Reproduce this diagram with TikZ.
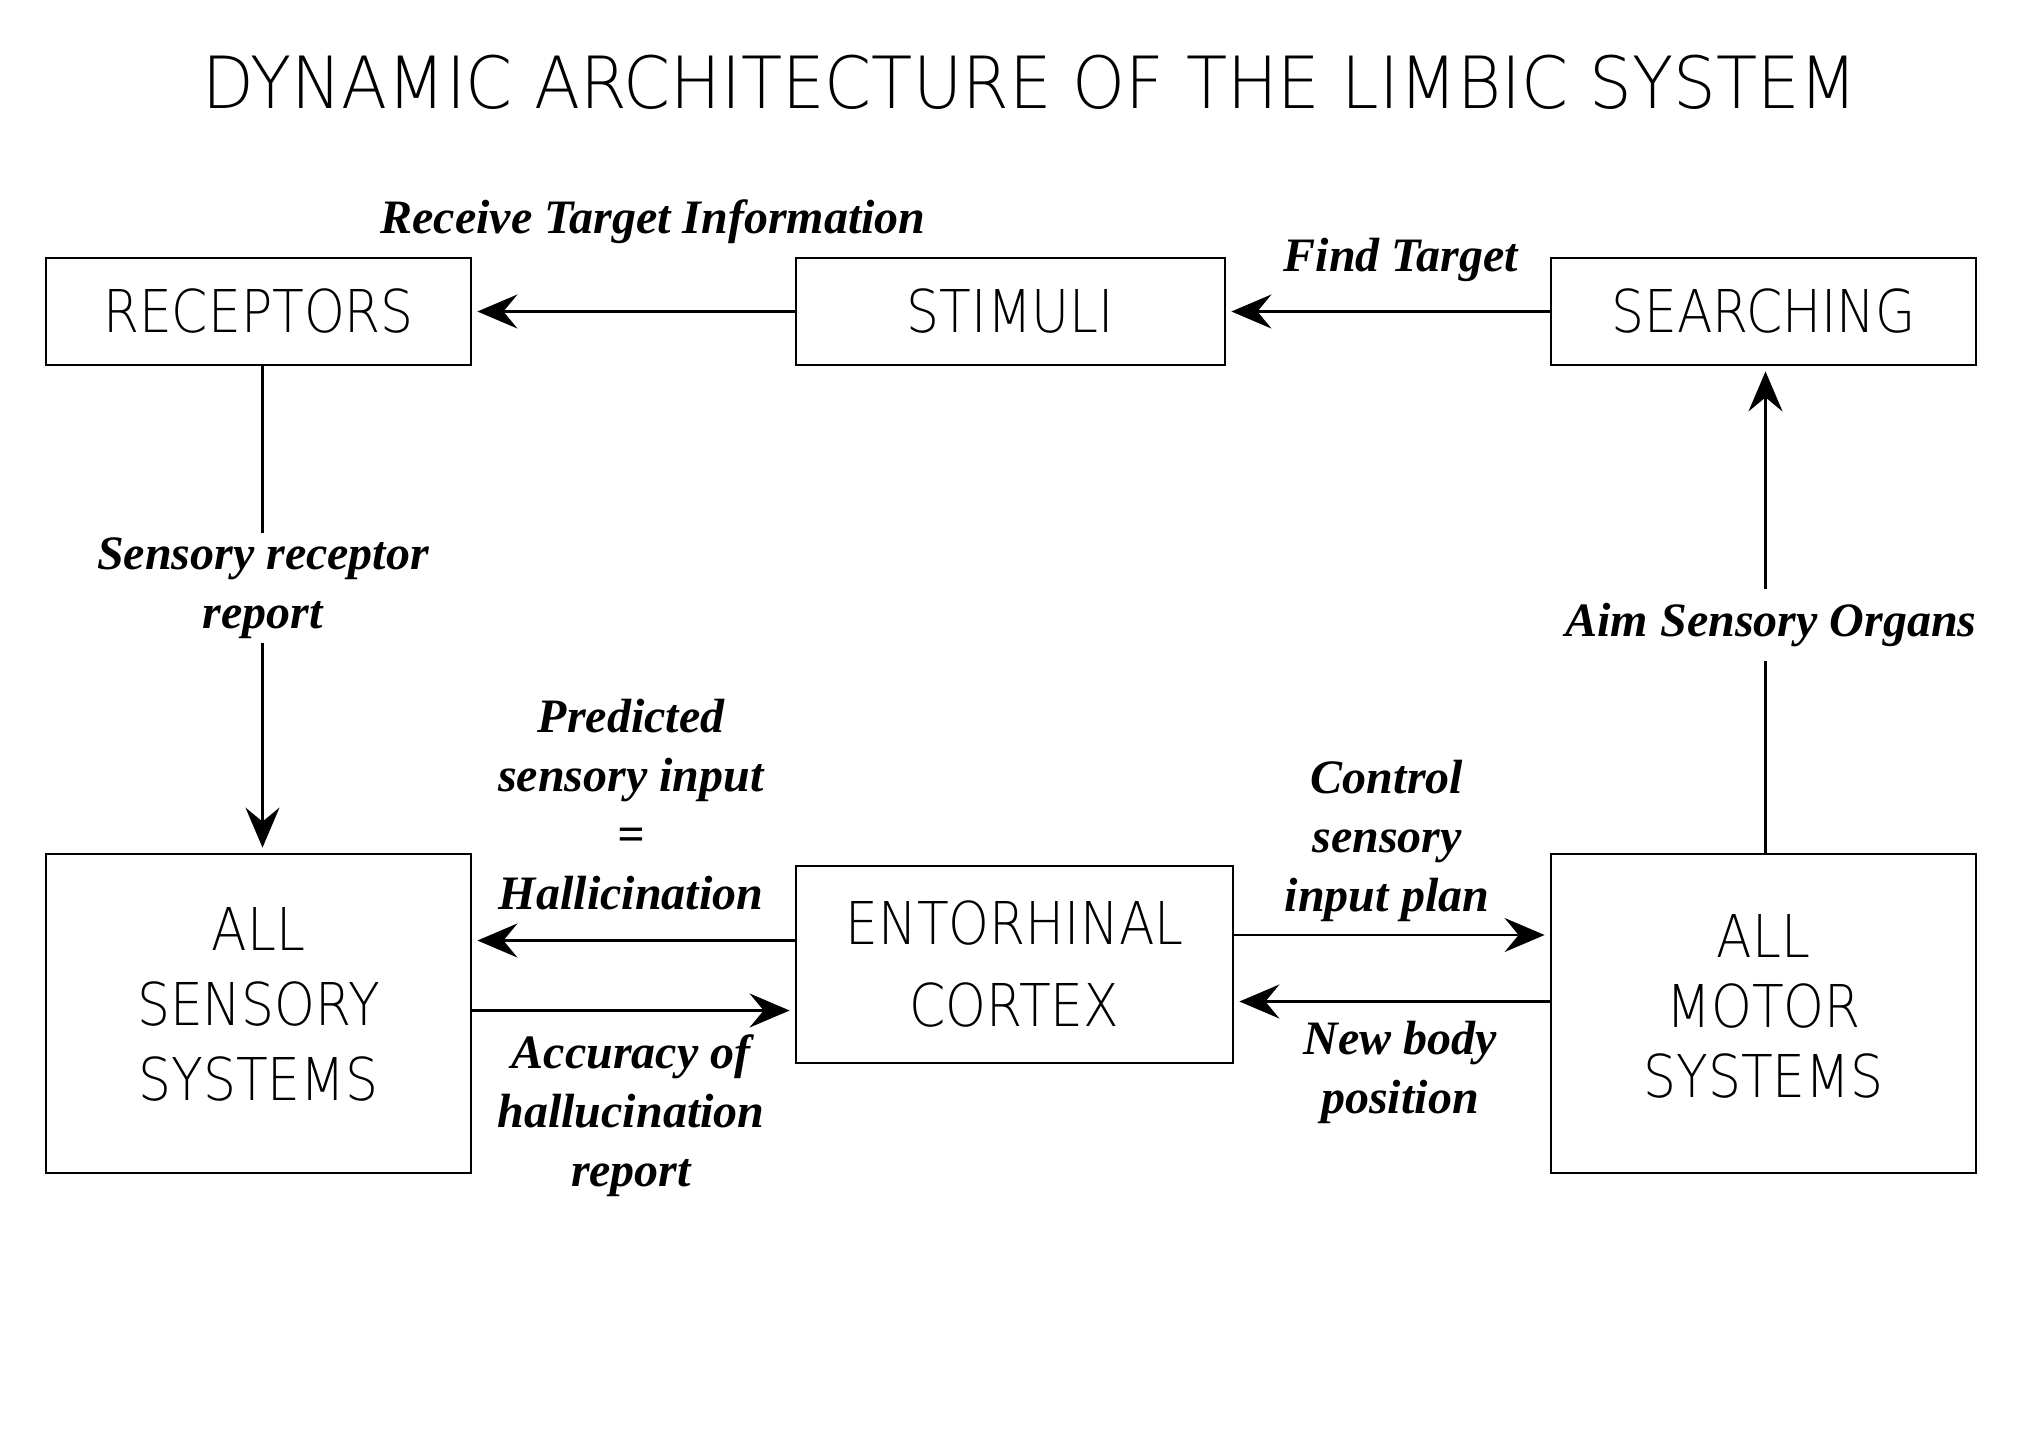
\documentclass[tikz,border=0pt]{standalone}
\usepackage{fontspec}
\setmainfont{Liberation Serif}
\IfFontExistsTF{DejaVuSans-ExtraLight.ttf}%
  {\newfontfamily\cad{DejaVuSans-ExtraLight}[Extension=.ttf,FakeStretch=0.88]%
   \newfontfamily\cadt{DejaVuSans-ExtraLight}[Extension=.ttf,FakeStretch=0.935]}%
  {\newfontfamily\cad{DejaVu Sans}[FakeStretch=0.88]%
   \newfontfamily\cadt{DejaVu Sans}[FakeStretch=0.935]}
\usetikzlibrary{arrows.meta}
\tikzset{
  box/.style={draw, line width=1.4pt, align=center, inner sep=0pt,
    font=\cad\fontsize{29.5}{37.5}\selectfont},
  lab/.style={font=\bfseries\itshape\fontsize{24}{29.5}\selectfont, align=center, inner sep=2pt},
  con/.style={line width=1.4pt},
  arr/.style={line width=1.4pt, shorten >=2.5pt, -{Stealth[length=20pt,width=17pt,inset=7pt]}}
}
\begin{document}
\begin{tikzpicture}[x=0.5pt,y=-0.5pt]
\useasboundingbox[fill=white] (0,0) rectangle (2020,1430);
% title
\node[font=\cadt\fontsize{36}{40}\selectfont] (title) at (1030,82) {DYNAMIC ARCHITECTURE OF THE LIMBIC SYSTEM};
% boxes
\node[box, minimum width=212.5pt, minimum height=53.5pt] (rec) at (258.5,311.5) {RECEPTORS};
\node[box, minimum width=214.5pt, minimum height=53.5pt] (sti) at (1010.5,311.5) {STIMULI};
\node[box, minimum width=212.5pt, minimum height=53.5pt] (sea) at (1763.5,311.5) {SEARCHING};
\node[box, minimum width=212.5pt, minimum height=159.5pt, text depth=10pt] (sen) at (258.5,1013.5) {ALL\\SENSORY\\SYSTEMS};
\node[box, minimum width=218.5pt, minimum height=98.5pt, font=\cad\fontsize{29.5}{41}\selectfont] (ent) at (1014.5,964.5) {ENTORHINAL\\CORTEX};
\node[box, minimum width=212.5pt, minimum height=159.5pt, text depth=8pt, font=\cad\fontsize{29.5}{35}\selectfont] (mot) at (1763.5,1013.5) {ALL\\MOTOR\\SYSTEMS};
% labels
\node[lab] (rti) at (653,222) {Receive Target Information};
\node[lab] (ft) at (1401,260) {Find Target};
\node[lab] (srr) at (263,588) {Sensory receptor\\report};
\node[lab, inner ysep=7pt] (aim) at (1771,625) {Aim Sensory Organs};
\node[lab] (phi) at (631,805) {Predicted\\sensory input\\=\\Hallicination};
\node[lab] (acc) at (631,1116) {Accuracy of\\hallucination\\report};
\node[lab] (csi) at (1387,841) {Control\\sensory\\input plan};
\node[lab] (nbp) at (1400,1072) {New body\\position};
% connectors
\draw[arr] (sti.west) -- (rec.east);
\draw[arr] (sea.west) -- (sti.east);
\draw[con] ([xshift=2pt]rec.south) -- ([xshift=2pt]rec.south |- srr.north);
\draw[arr] ([xshift=2pt]rec.south |- srr.south) -- ([xshift=2pt]sen.north);
\draw[con] ([xshift=1pt]mot.north) -- ([xshift=1pt]mot.north |- aim.south);
\draw[arr] ([xshift=1pt]mot.north |- aim.north) -- ([xshift=1pt]sea.south);
\draw[arr] ([yshift=12pt]ent.west) -- ([yshift=12pt]ent.west -| sen.east);
\draw[arr] ([yshift=-23pt]sen.east |- ent.west) -- ([yshift=-23pt]ent.west);
\draw[arr] ([yshift=14.75pt]ent.east) -- ([yshift=14.75pt]ent.east -| mot.west);
\draw[arr] ([yshift=-18.5pt]mot.west |- ent.east) -- ([yshift=-18.5pt]ent.east);
\end{tikzpicture}
\end{document}
